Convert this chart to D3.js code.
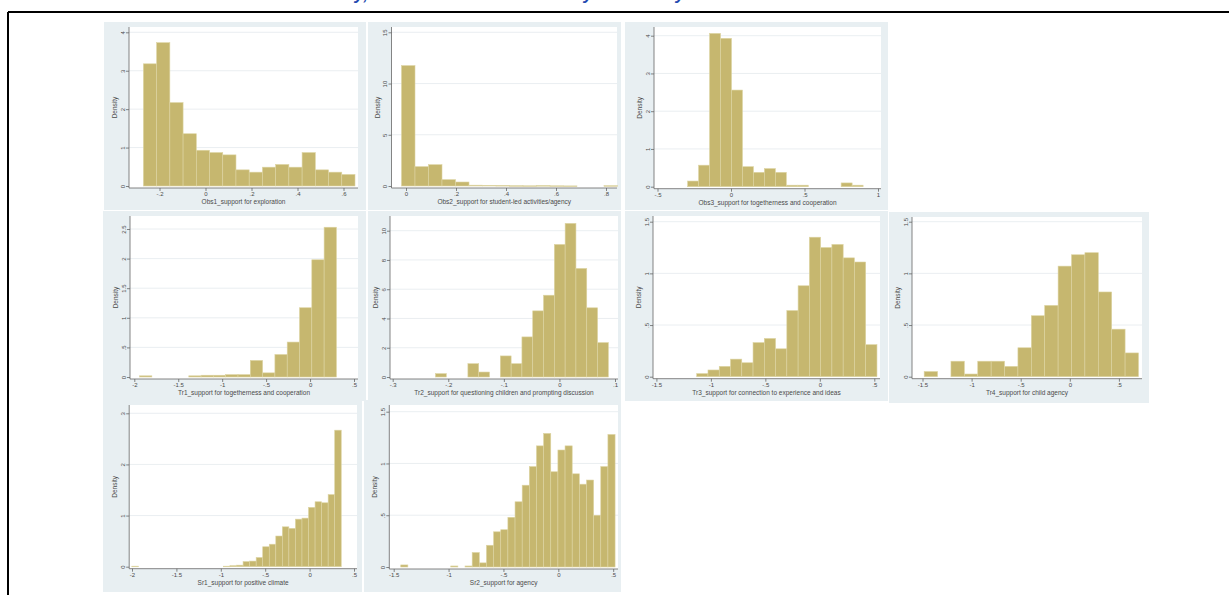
<!DOCTYPE html>
<html>
<head>
<meta charset="utf-8">
<script src="https://cdn.jsdelivr.net/npm/d3@7"></script>
<style>
  html, body { margin: 0; padding: 0; background: #ffffff; }
  svg { display: block; }
</style>
</head>
<body>
<svg id="chart" width="1229" height="595"></svg>
<script>
// ---------------- DATA ----------------
const panelTitles = [
  "Obs1_support for exploration",
  "Obs2_support for student-led activities/agency",
  "Obs3_support for togetherness and cooperation",
  "Tr1_support for togetherness and cooperation",
  "Tr2_support for questioning children and prompting discussion",
  "Tr3_support for connection to experience and ideas",
  "Tr4_support for child agency",
  "Sr1_support for positive climate",
  "Sr2_support for agency"
];
const yAxisTitle = "Density";

// lower edge of the first bin and bin width for each histogram
const binStart = [-0.270, -0.018, -0.295, -1.94, -0.223, -1.13, -1.483, -2.002, -1.436];
const binWidth = [0.0575, 0.054, 0.0746, 0.14, 0.01944, 0.1034, 0.1364, 0.0737, 0.0651];

// bin densities
const obs1 = [3.18, 3.73, 2.17, 1.36, 0.93, 0.87, 0.81, 0.42, 0.36, 0.49, 0.56, 0.49, 0.87, 0.42, 0.36, 0.30];
const obs2 = [11.75, 1.89, 2.08, 0.62, 0.39, 0.08, 0.06, 0.05, 0.03, 0.02, 0.04, 0.02, 0.01, 0, 0, 0.03];
const obs3 = [0.15, 0.57, 4.06, 3.93, 2.56, 0.53, 0.38, 0.48, 0.38, 0.04, 0.04, 0, 0, 0, 0.10, 0.04];
const tr1  = [0.02, 0, 0, 0, 0.02, 0.03, 0.03, 0.04, 0.04, 0.28, 0.07, 0.38, 0.59, 1.17, 1.98, 2.53];
const tr2  = [0.23, 0, 0, 0.91, 0.34, 0, 1.44, 0.91, 2.74, 4.52, 5.59, 9.06, 10.5, 7.42, 4.73, 2.35];
const tr3  = [0.03, 0.065, 0.10, 0.17, 0.135, 0.33, 0.37, 0.27, 0.64, 0.88, 1.35, 1.25, 1.28, 1.15, 1.11, 0.31];
const tr4  = [0.05, 0, 0.15, 0.026, 0.15, 0.15, 0.10, 0.28, 0.59, 0.69, 1.07, 1.18, 1.20, 0.82, 0.46, 0.23];
const sr1  = [0.01, 0, 0, 0, 0, 0, 0, 0, 0, 0, 0, 0, 0, 0, 0.01, 0.02, 0.03, 0.10, 0.11, 0.18,
              0.39, 0.44, 0.60, 0.78, 0.75, 0.93, 0.95, 1.16, 1.27, 1.25, 1.41, 2.67];
const sr2  = [0.02, 0, 0, 0, 0, 0, 0, 0.01, 0, 0.01, 0.14, 0.04, 0.21, 0.34, 0.36, 0.48, 0.63, 0.79,
              0.97, 1.17, 1.29, 0.92, 1.13, 1.17, 0.90, 0.80, 0.84, 0.50, 0.97, 1.28];
const densities = [obs1, obs2, obs3, tr1, tr2, tr3, tr4, sr1, sr2];

const xTicks = [
  [-0.2, 0, 0.2, 0.4, 0.6],
  [0, 0.2, 0.4, 0.6, 0.8],
  [-0.5, 0, 0.5, 1],
  [-2, -1.5, -1, -0.5, 0, 0.5],
  [-0.3, -0.2, -0.1, 0, 0.1],
  [-1.5, -1, -0.5, 0, 0.5],
  [-1.5, -1, -0.5, 0, 0.5],
  [-2, -1.5, -1, -0.5, 0, 0.5],
  [-1.5, -1, -0.5, 0, 0.5]
];
const yTicks = [
  [0, 1, 2, 3, 4],
  [0, 5, 10, 15],
  [0, 1, 2, 3, 4],
  [0, 0.5, 1, 1.5, 2, 2.5],
  [0, 2, 4, 6, 8, 10],
  [0, 0.5, 1, 1.5],
  [0, 0.5, 1, 1.5],
  [0, 1, 2, 3],
  [0, 0.5, 1, 1.5]
];
const headingParts = ["Annex B. Distribution of the variables in the study,", "teacher survey", "and survey"];

// ---------------- LAYOUT (pixels) ----------------
const layout = [
  {bg:[104,22,366,210],  ax:129,   right:358,  top:27,  xr:[159.5,343.5], yr:[186,32.3]},
  {bg:[368,22,621,210],  ax:391.5, right:617,  top:27,  xr:[406,606],     yr:[186,32.3]},
  {bg:[625,22,888,210],  ax:654,   right:881,  top:27,  xr:[657.5,878],   yr:[186.7,35.7]},
  {bg:[103,211,366,401], ax:130,   right:358,  top:216, xr:[134.3,354],   yr:[377,229]},
  {bg:[368,211,621,401], ax:390,   right:618,  top:216, xr:[392.7,615],   yr:[377,230.7]},
  {bg:[625,211,888,401], ax:653,   right:880,  top:216, xr:[656.4,874.3], yr:[376.7,221.7]},
  {bg:[889,212,1149,403],ax:912,   right:1142, top:217, xr:[922.5,1118.9],yr:[376.7,221.7]},
  {bg:[103,400,362,592], ax:129.2, right:357,  top:405, xr:[132,354],     yr:[566.7,413.3]},
  {bg:[364,400,621,592], ax:389.3, right:618,  top:405, xr:[393.7,613.2], yr:[567,411.7]}
];

const FONT = "'Liberation Sans', Arial, sans-serif";
const BG = "#e8eff2";
const BAR = "#c6b76f";
const BAR_EDGE = "#ddd4a2";
const TXT = "#4a4a4a";

function stataFmt(v) {
  if (Math.abs(v) < 1e-9) return "0";
  let s = String(+v.toFixed(3));
  return s.replace(/^(-?)0\./, "$1.");
}

const svg = d3.select("#chart");

// heading (cut off by the top of the page, as in the source)
const head = svg.append("text")
  .attr("y", 0)
  .attr("text-anchor", "end")
  .style("font-family", FONT)
  .style("font-size", "17px")
  .style("font-weight", "bold")
  .style("font-style", "italic")
  .attr("fill", "#2449b0");
const headEnds = [368, 593, 685];
headingParts.forEach((t, i) => head.append("tspan").attr("x", headEnds[i]).attr("y", 0).text(t));

// frame
svg.append("line").attr("x1", 8).attr("x2", 1229).attr("y1", 12).attr("y2", 12)
  .attr("stroke", "#000").attr("stroke-width", 2);
svg.append("line").attr("x1", 8).attr("x2", 8).attr("y1", 12).attr("y2", 595)
  .attr("stroke", "#000").attr("stroke-width", 2);

// panel backgrounds first
layout.forEach(L => {
  svg.append("rect")
    .attr("x", L.bg[0]).attr("y", L.bg[1])
    .attr("width", L.bg[2] - L.bg[0]).attr("height", L.bg[3] - L.bg[1])
    .attr("fill", BG);
});

layout.forEach((L, p) => {
  const xt = xTicks[p], yt = yTicks[p];
  const x = d3.scaleLinear().domain([xt[0], xt[xt.length - 1]]).range(L.xr);
  const y = d3.scaleLinear().domain([0, yt[yt.length - 1]]).range(L.yr);
  const axisY = y(0) + 2;
  const g = svg.append("g");

  g.append("rect")
    .attr("x", L.ax).attr("y", L.top)
    .attr("width", L.right - L.ax).attr("height", axisY - L.top)
    .attr("fill", "#ffffff");

  g.selectAll("line.grid").data(yt.filter(v => v > 0)).enter().append("line")
    .attr("x1", L.ax).attr("x2", L.right)
    .attr("y1", d => y(d)).attr("y2", d => y(d))
    .attr("stroke", "#e4eaed").attr("stroke-width", 0.8);

  const bins = densities[p].map((h, i) => ({
    x0: binStart[p] + i * binWidth[p],
    x1: binStart[p] + (i + 1) * binWidth[p],
    h: h
  })).filter(d => d.h > 0);
  g.selectAll("rect.bar").data(bins).enter().append("rect")
    .attr("x", d => x(d.x0))
    .attr("width", d => x(d.x1) - x(d.x0))
    .attr("y", d => y(d.h))
    .attr("height", d => Math.max(0.6, y(0) - y(d.h)))
    .attr("fill", BAR)
    .attr("stroke", BAR_EDGE)
    .attr("stroke-width", 0.6);

  const xa = g.append("g").attr("transform", `translate(0,${axisY})`)
    .call(d3.axisBottom(x).tickValues(xt).tickFormat(stataFmt).tickSize(3).tickSizeOuter(0).tickPadding(1));
  xa.select(".domain").remove();
  xa.append("line").attr("x1", L.ax).attr("x2", L.right).attr("y1", 0).attr("y2", 0)
    .attr("stroke", "#666").attr("stroke-width", 0.8);
  xa.selectAll(".tick line").attr("stroke", "#666").attr("stroke-width", 0.8);
  xa.selectAll(".tick text").attr("fill", TXT)
    .style("font-family", FONT).style("font-size", "6px");

  const ya = g.append("g").attr("transform", `translate(${L.ax},0)`)
    .call(d3.axisLeft(y).tickValues(yt).tickFormat(stataFmt).tickSize(3).tickSizeOuter(0));
  ya.select(".domain").remove();
  ya.append("line").attr("x1", 0).attr("x2", 0).attr("y1", L.top).attr("y2", axisY)
    .attr("stroke", "#666").attr("stroke-width", 0.8);
  ya.selectAll(".tick line").attr("stroke", "#666").attr("stroke-width", 0.8);
  ya.selectAll(".tick text")
    .attr("transform", "rotate(-90)")
    .attr("x", 0).attr("y", -4.5).attr("dy", 0)
    .attr("text-anchor", "middle")
    .attr("fill", TXT)
    .style("font-family", FONT).style("font-size", "6px");

  const ymid = (L.top + axisY) / 2;
  g.append("text")
    .attr("transform", `translate(${L.ax - 12},${ymid}) rotate(-90)`)
    .attr("text-anchor", "middle")
    .attr("fill", TXT)
    .style("font-family", FONT).style("font-size", "6.5px")
    .text(yAxisTitle);

  g.append("text")
    .attr("x", (L.ax + L.right) / 2)
    .attr("y", axisY + 16)
    .attr("text-anchor", "middle")
    .attr("fill", TXT)
    .style("font-family", FONT).style("font-size", "6.5px")
    .text(panelTitles[p]);
});
</script>
</body>
</html>
